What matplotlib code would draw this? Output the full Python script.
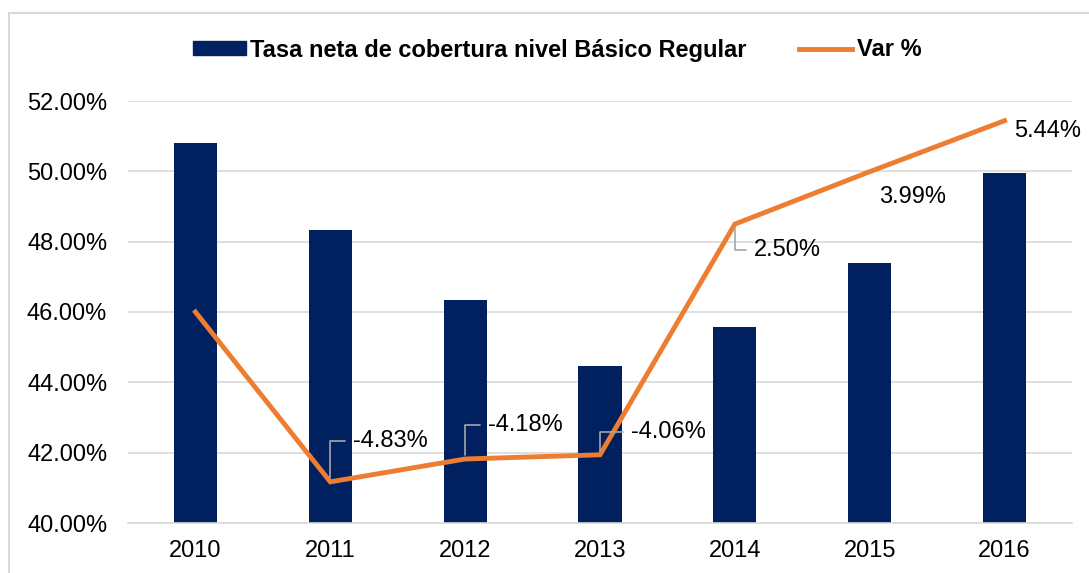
"""
Tasa neta de cobertura nivel Básico Regular y variación porcentual
"""
import matplotlib
matplotlib.use('Agg')
import matplotlib.pyplot as plt
from matplotlib.lines import Line2D
from matplotlib.patches import Patch

plt.rcParams['font.family'] = ['Liberation Sans', 'DejaVu Sans']

# Datos
years = ['2010', '2011', '2012', '2013', '2014', '2015', '2016']
tasa = [50.80, 48.34, 46.33, 44.46, 45.56, 47.38, 49.95]
var_pct = [0.0, -4.83, -4.18, -4.06, 2.50, 3.99, 5.44]
var_labels = ['', '-4.83%', '-4.18%', '-4.06%', '2.50%', '3.99%', '5.44%']
y_ticks = [40, 42, 44, 46, 48, 50, 52]

NAVY = '#002060'
ORANGE = '#ED7D31'
GRID = '#D9D9D9'
FS = 17

W, H = 1089, 573
fig = plt.figure(figsize=(W / 100, H / 100), dpi=100)
ax = fig.add_axes([128 / W, 1 - 523 / H, (1072 - 128) / W, (523 - 101) / H])

x = list(range(len(years)))
ax.bar(x, [t - 40 for t in tasa], bottom=40, width=0.32, color=NAVY, zorder=2)
ax.set_xlim(-0.5, len(years) - 0.5)
ax.set_ylim(40, 52)
ax.set_yticks(y_ticks)
ax.set_yticklabels([f'{v:.2f}%' for v in y_ticks], fontsize=FS)
ax.set_xticks(x)
ax.set_xticklabels(years, fontsize=FS)
ax.tick_params(length=0)
ax.tick_params(axis='y', pad=15)
ax.tick_params(axis='x', pad=12)
ax.grid(axis='y', color=GRID, linewidth=1.2, zorder=0)
for s in ['top', 'right', 'left']:
    ax.spines[s].set_visible(False)
ax.spines['bottom'].set_color(GRID)
ax.spines['bottom'].set_linewidth(1.2)

# Eje secundario para la variación
ax2 = ax.twinx()
ax2.set_ylim(-6, 6)
ax2.axis('off')
ax2.plot(x, var_pct, color=ORANGE, linewidth=3.5, solid_joinstyle='miter', zorder=3)

# Etiquetas (offset en pixeles y si llevan línea guía)
offsets = [None, (23, 41), (23, 34), (31, 23), (19, -26), (43, -25), (10, -10)]
leaders = [False, True, True, True, True, False, False]
for i, lab in enumerate(var_labels):
    if not lab:
        continue
    kw = dict(xy=(x[i], var_pct[i]), xytext=offsets[i], textcoords='offset pixels',
              fontsize=FS, ha='left', va='center')
    if i == 5:
        kw['ha'] = 'center'
    if leaders[i]:
        kw['arrowprops'] = dict(arrowstyle='-', color='#A6A6A6', lw=1.2, shrinkA=4, shrinkB=3,
                                connectionstyle='angle,angleA=0,angleB=90,rad=0')
    ax2.annotate(lab, **kw)

# Leyenda
handles = [Patch(facecolor=NAVY, edgecolor=NAVY),
           Line2D([0], [0], color=ORANGE, linewidth=3.5)]
fig.legend(handles, ['Tasa neta de cobertura nivel Básico Regular', 'Var %'],
           loc='center', bbox_to_anchor=(557 / W, 1 - 50 / H), ncol=2, frameon=False,
           prop={'weight': 'bold', 'size': FS}, handlelength=2.25, handleheight=0.55,
           handletextpad=0.2, columnspacing=2.2)

# Borde del gráfico
fig.add_artist(Line2D([8.5 / W, 8.5 / W], [0, 1 - 13 / H], color=GRID, linewidth=1.5))
fig.add_artist(Line2D([8.5 / W, 1], [1 - 13 / H, 1 - 13 / H], color=GRID, linewidth=1.5))

plt.savefig('out.png', dpi=100)
plt.close()
